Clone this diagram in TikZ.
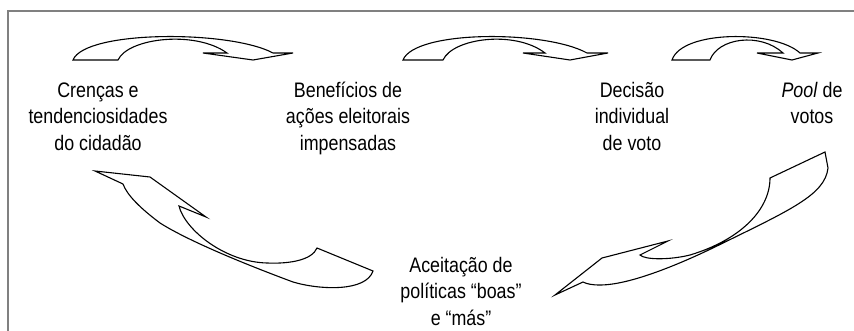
\documentclass[tikz,border=0pt]{standalone}
\usepackage{fontspec}
\setmainfont{Liberation Sans}[FakeStretch=0.85]
\begin{document}
\begin{tikzpicture}[x=1pt,y=-1pt,
  lbl/.style={font=\fontsize{21}{26.5}\selectfont, align=center, inner sep=0pt, anchor=north, text=black},
  shp/.style={draw=black, line width=1.1pt, line join=miter},
  frm/.style={draw={rgb,255:red,128;green,128;blue,128}, line width=2pt}
]
\useasboundingbox (0,0) rectangle (854,331);
% frame
\draw[frm] (854,11) -- (8,11) -- (8,331);

% text nodes (north = first baseline - 20pt)
\def\hs{\rule{0pt}{20pt}}
\node[lbl] (crencas) at (98,77) {\hs Crenças e\\tendenciosidades\\do cidadão};
\node[lbl] (benef) at (348,77) {\hs Benefícios de\\ações eleitorais\\impensadas};
\node[lbl] (decisao) at (632,77) {\hs Decisão\\individual\\de voto};
\node[lbl] (pool) at (812,77) {\hs \textit{Pool} de\\votos};
\node[lbl] (aceit) at (461,252) {\hs Aceitação de\\políticas “boas”\\e “más”};

% top curved arrow 1
\draw[shp] (73,60) -- (118,60)
  .. controls (128,38) and (195,30) .. (227,53)
  -- (203,53) -- (253,60) -- (293,53) -- (273,53)
  .. controls (230,30) and (85,30) .. (73,60) -- cycle;
% top curved arrow 2
\draw[shp] (403,60) -- (443,60)
  .. controls (453,38) and (515,30) .. (545,53)
  -- (523,53) -- (570,60) -- (608,53) -- (587,53)
  .. controls (545,30) and (415,30) .. (403,60) -- cycle;
% top curved arrow 3
\draw[shp] (672,60) -- (710,60)
  .. controls (718,38) and (760,32) .. (783,53)
  -- (757,53) -- (792,60) -- (818,53) -- (800,53)
  .. controls (775,30) and (682,30) .. (672,60) -- cycle;

% lower-left arrow
\draw[shp] (95,171) -- (150,177) -- (206,217) -- (179,206)
  .. controls (185,230) and (225,262) .. (267,263)
  .. controls (290,264) and (312,260) .. (317,248)
  -- (373,271)
  .. controls (366,292) and (320,290) .. (293,282)
  .. controls (250,266) and (190,242) .. (160,223)
  .. controls (140,208) and (127,195) .. (123,184)
  -- cycle;

% lower-right arrow
\draw[shp] (555,295) -- (602,258) -- (668,241) -- (640,255)
  .. controls (645,260) and (670,260) .. (690,255)
  .. controls (740,240) and (770,210) .. (770,178)
  -- (825,152) -- (828,168)
  .. controls (825,195) and (790,210) .. (717,246)
  .. controls (680,264) and (630,285) .. (600,285)
  .. controls (592,285) and (587,284) .. (583,282)
  -- cycle;
\end{tikzpicture}
\end{document}
